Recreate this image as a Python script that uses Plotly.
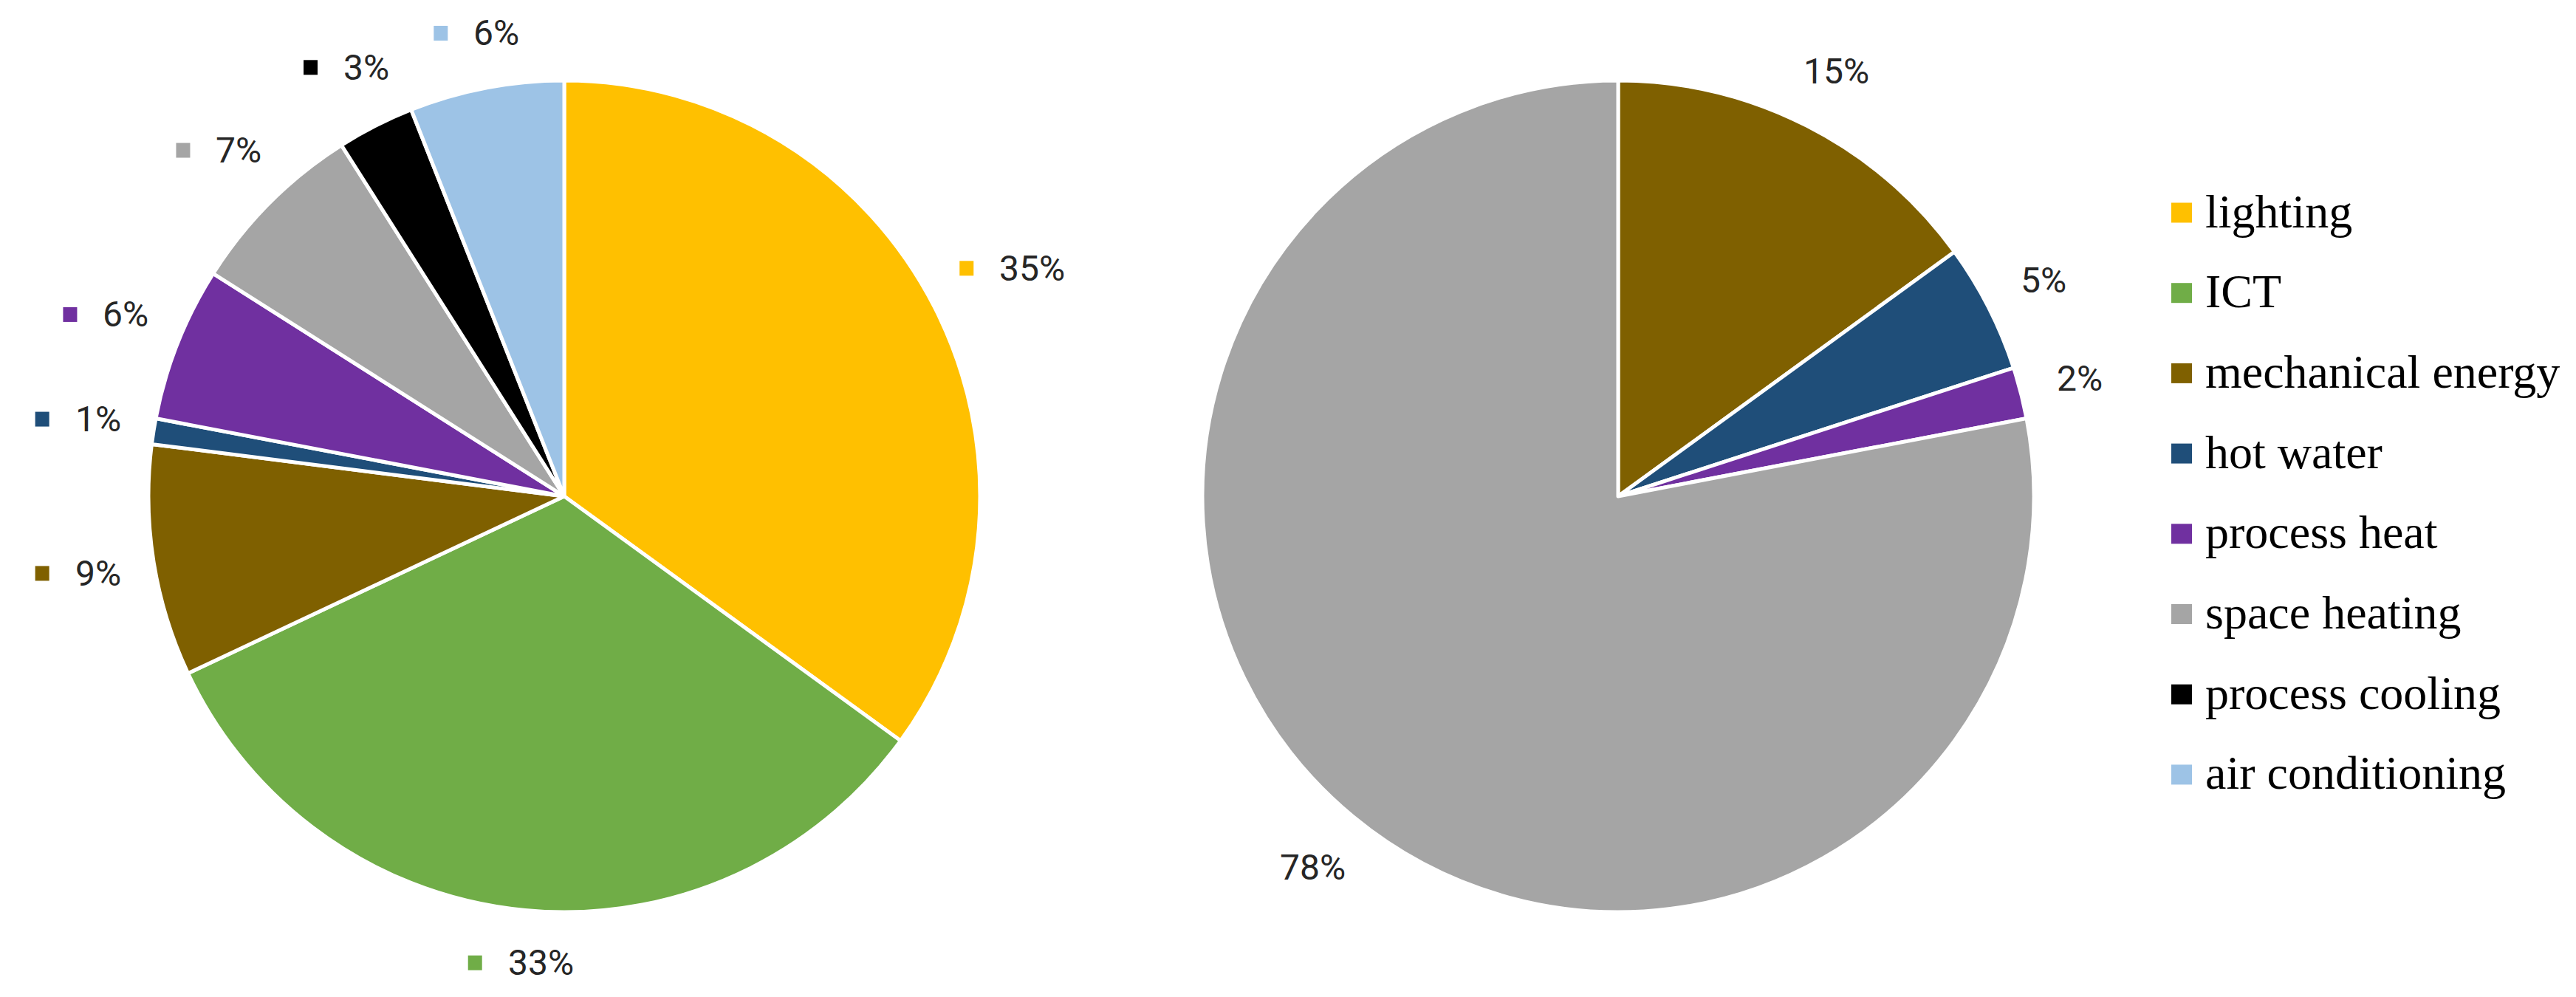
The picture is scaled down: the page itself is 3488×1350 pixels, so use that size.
import math
import plotly.graph_objects as go

# ---------------- data ----------------
categories = ["lighting", "ICT", "mechanical energy", "hot water",
              "process heat", "space heating", "process cooling", "air conditioning"]
colors = ["#FFC000", "#70AD47", "#7F6000", "#1F4E79",
          "#7030A0", "#A5A5A5", "#000000", "#9DC3E6"]
left_values = [35, 33, 9, 1, 6, 7, 3, 6]

right_labels = ["mechanical energy", "hot water", "process heat", "space heating"]
right_values = [15, 5, 2, 78]

# ---------------- layout constants ----------------
W, H = 3488, 1350
R = 563
LEFT_C = (756, 664)
RIGHT_C = (2183, 664)
LABEL_FONT = 48
GAP = 45
TXT_COLOR = "#262626"

color_of = dict(zip(categories, colors))


def domain(c):
    cx, cy = c
    return dict(x=[(cx - R) / W, (cx + R) / W],
                y=[(H - cy - R) / H, (H - cy + R) / H])


fig = go.Figure()
fig.add_trace(go.Pie(
    labels=categories, values=left_values, sort=False, direction="clockwise",
    marker=dict(colors=colors, line=dict(color="white", width=5)),
    textinfo="none", hoverinfo="label+percent", domain=domain(LEFT_C),
    showlegend=False))
fig.add_trace(go.Pie(
    labels=right_labels, values=right_values, sort=False, direction="clockwise",
    marker=dict(colors=[color_of[l] for l in right_labels],
                line=dict(color="white", width=5)),
    textinfo="none", hoverinfo="label+percent", domain=domain(RIGHT_C),
    showlegend=False))

annotations = []
shapes = []


def text_width(s):
    w = 0
    for ch in s:
        w += 0.733 * LABEL_FONT if ch == "%" else 0.562 * LABEL_FONT
    return w


def add_labels(c, labels, values, with_key):
    total = float(sum(values))
    cum = 0.0
    for lab, v in zip(labels, values):
        frac = v / total
        theta = 2 * math.pi * (cum + frac / 2)
        cum += frac
        ux, uy = math.sin(theta), math.cos(theta)
        txt = f"{round(frac * 100):.0f}%"
        tw = text_width(txt)
        key_w, key_gap = (19, 33) if with_key else (0, 0)
        w = key_w + key_gap + tw
        h = 40
        t = R + GAP + w / 2 * abs(ux) + h / 2 * abs(uy)
        cx = c[0] + t * ux
        cy = c[1] - t * uy
        left = cx - w / 2
        annotations.append(dict(
            x=(left + key_w + key_gap) / W, y=(H - cy) / H, xref="paper", yref="paper",
            text=txt, showarrow=False, xanchor="left", yanchor="middle",
            font=dict(family="Roboto", size=LABEL_FONT, color=TXT_COLOR)))
        if with_key:
            shapes.append(dict(
                type="rect", xref="paper", yref="paper",
                x0=left / W, x1=(left + key_w) / W,
                y0=(H - cy - 10) / H, y1=(H - cy + 10) / H,
                fillcolor=color_of[lab], line=dict(width=0)))


add_labels(LEFT_C, categories, left_values, True)
add_labels(RIGHT_C, right_labels, right_values, False)

# ---------------- manual legend ----------------
LEG_X = 2932
LEG_Y0 = 280
LEG_STEP = 108.7
for i, (cat, col) in enumerate(zip(categories, colors)):
    yc = LEG_Y0 + i * LEG_STEP
    shapes.append(dict(type="rect", xref="paper", yref="paper",
                       x0=LEG_X / W, x1=(LEG_X + 28) / W,
                       y0=(H - yc - 13.5) / H, y1=(H - yc + 13.5) / H,
                       fillcolor=col, line=dict(width=0)))
    annotations.append(dict(
        x=(LEG_X + 44) / W, y=(H - yc + 2) / H, xref="paper", yref="paper",
        text=cat, showarrow=False, xanchor="left", yanchor="middle",
        font=dict(family="Liberation Serif", size=64, color="#000000")))

fig.update_layout(
    width=W, height=H, autosize=False,
    margin=dict(l=0, r=0, t=0, b=0),
    paper_bgcolor="white", plot_bgcolor="white",
    showlegend=False,
    annotations=annotations, shapes=shapes)

fig.write_html("out.html")
